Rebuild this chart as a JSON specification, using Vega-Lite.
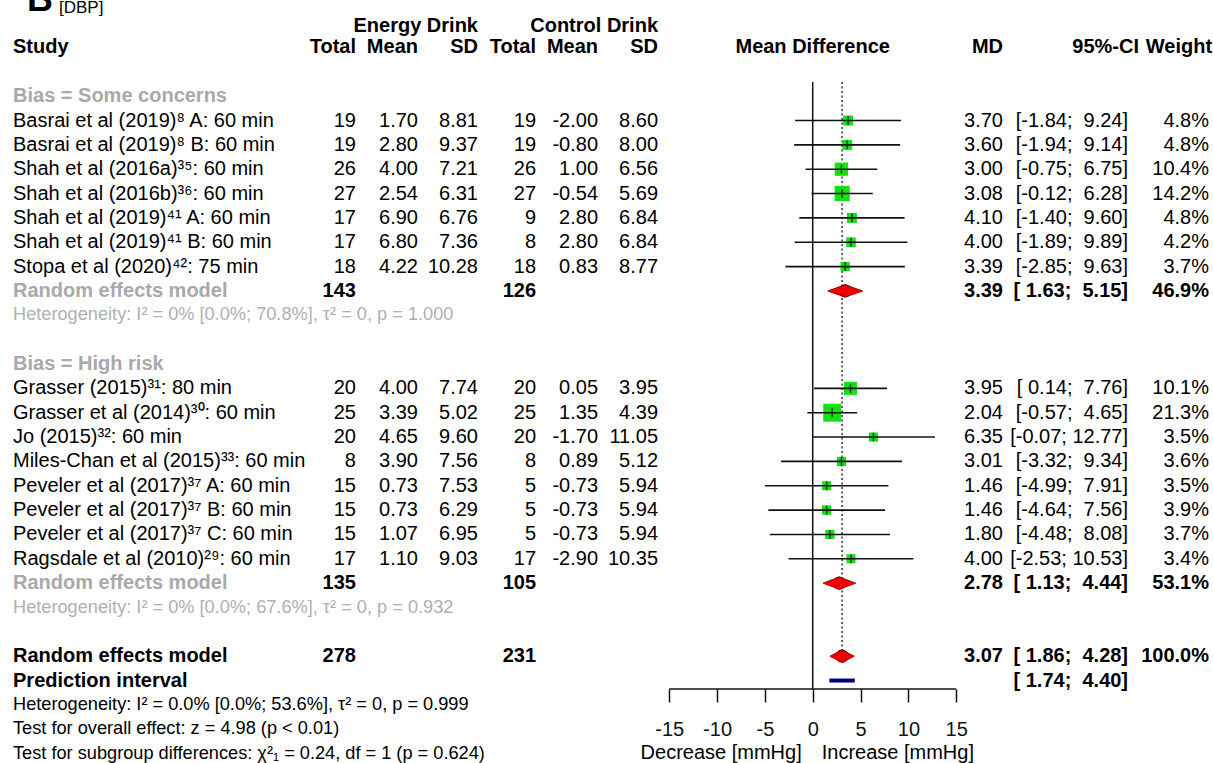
{
  "$schema": "https://vega.github.io/schema/vega-lite/v6.json",
  "width": 1213,
  "height": 689,
  "autosize": {"type": "none"},
  "padding": {"left": 0, "top": 0, "right": 0, "bottom": 74},
  "background": "white",
  "config": {
    "view": {"stroke": null},
    "text": {"font": "Liberation Sans"},
    "locale": {"number": {"decimal": ".", "thousands": ",", "grouping": [3], "currency": ["$", ""], "minus": "-"}}
  },
  "resolve": {"scale": {"size": "independent", "color": "independent"}},
  "datasets": {
    "studies": [
      {"study": "Basrai et al (2019)⁸ A: 60 min", "bias": "Some concerns", "k": 5, "n_e": 19, "m_e": 1.70, "sd_e": 8.81, "n_c": 19, "m_c": -2.00, "sd_c": 8.60, "md": 3.70, "lo": -1.84, "hi": 9.24, "ci": "[-1.84;\u00a0\u00a09.24]", "w": 0.048},
      {"study": "Basrai et al (2019)⁸ B: 60 min", "bias": "Some concerns", "k": 6, "n_e": 19, "m_e": 2.80, "sd_e": 9.37, "n_c": 19, "m_c": -0.80, "sd_c": 8.00, "md": 3.60, "lo": -1.94, "hi": 9.14, "ci": "[-1.94;\u00a0\u00a09.14]", "w": 0.048},
      {"study": "Shah et al (2016a)³⁵: 60 min", "bias": "Some concerns", "k": 7, "n_e": 26, "m_e": 4.00, "sd_e": 7.21, "n_c": 26, "m_c": 1.00, "sd_c": 6.56, "md": 3.00, "lo": -0.75, "hi": 6.75, "ci": "[-0.75;\u00a0\u00a06.75]", "w": 0.104},
      {"study": "Shah et al (2016b)³⁶: 60 min", "bias": "Some concerns", "k": 8, "n_e": 27, "m_e": 2.54, "sd_e": 6.31, "n_c": 27, "m_c": -0.54, "sd_c": 5.69, "md": 3.08, "lo": -0.12, "hi": 6.28, "ci": "[-0.12;\u00a0\u00a06.28]", "w": 0.142},
      {"study": "Shah et al (2019)⁴¹ A: 60 min", "bias": "Some concerns", "k": 9, "n_e": 17, "m_e": 6.90, "sd_e": 6.76, "n_c": 9, "m_c": 2.80, "sd_c": 6.84, "md": 4.10, "lo": -1.40, "hi": 9.60, "ci": "[-1.40;\u00a0\u00a09.60]", "w": 0.048},
      {"study": "Shah et al (2019)⁴¹ B: 60 min", "bias": "Some concerns", "k": 10, "n_e": 17, "m_e": 6.80, "sd_e": 7.36, "n_c": 8, "m_c": 2.80, "sd_c": 6.84, "md": 4.00, "lo": -1.89, "hi": 9.89, "ci": "[-1.89;\u00a0\u00a09.89]", "w": 0.042},
      {"study": "Stopa et al (2020)⁴²: 75 min", "bias": "Some concerns", "k": 11, "n_e": 18, "m_e": 4.22, "sd_e": 10.28, "n_c": 18, "m_c": 0.83, "sd_c": 8.77, "md": 3.39, "lo": -2.85, "hi": 9.63, "ci": "[-2.85;\u00a0\u00a09.63]", "w": 0.037},
      {"study": "Grasser (2015)³¹: 80 min", "bias": "High risk", "k": 16, "n_e": 20, "m_e": 4.00, "sd_e": 7.74, "n_c": 20, "m_c": 0.05, "sd_c": 3.95, "md": 3.95, "lo": 0.14, "hi": 7.76, "ci": "[\u00a00.14;\u00a0\u00a07.76]", "w": 0.101},
      {"study": "Grasser et al (2014)³⁰: 60 min", "bias": "High risk", "k": 17, "n_e": 25, "m_e": 3.39, "sd_e": 5.02, "n_c": 25, "m_c": 1.35, "sd_c": 4.39, "md": 2.04, "lo": -0.57, "hi": 4.65, "ci": "[-0.57;\u00a0\u00a04.65]", "w": 0.213},
      {"study": "Jo (2015)³²: 60 min", "bias": "High risk", "k": 18, "n_e": 20, "m_e": 4.65, "sd_e": 9.60, "n_c": 20, "m_c": -1.70, "sd_c": 11.05, "md": 6.35, "lo": -0.07, "hi": 12.77, "ci": "[-0.07;\u00a012.77]", "w": 0.035},
      {"study": "Miles-Chan et al (2015)³³: 60 min", "bias": "High risk", "k": 19, "n_e": 8, "m_e": 3.90, "sd_e": 7.56, "n_c": 8, "m_c": 0.89, "sd_c": 5.12, "md": 3.01, "lo": -3.32, "hi": 9.34, "ci": "[-3.32;\u00a0\u00a09.34]", "w": 0.036},
      {"study": "Peveler et al (2017)³⁷ A: 60 min", "bias": "High risk", "k": 20, "n_e": 15, "m_e": 0.73, "sd_e": 7.53, "n_c": 5, "m_c": -0.73, "sd_c": 5.94, "md": 1.46, "lo": -4.99, "hi": 7.91, "ci": "[-4.99;\u00a0\u00a07.91]", "w": 0.035},
      {"study": "Peveler et al (2017)³⁷ B: 60 min", "bias": "High risk", "k": 21, "n_e": 15, "m_e": 0.73, "sd_e": 6.29, "n_c": 5, "m_c": -0.73, "sd_c": 5.94, "md": 1.46, "lo": -4.64, "hi": 7.56, "ci": "[-4.64;\u00a0\u00a07.56]", "w": 0.039},
      {"study": "Peveler et al (2017)³⁷ C: 60 min", "bias": "High risk", "k": 22, "n_e": 15, "m_e": 1.07, "sd_e": 6.95, "n_c": 5, "m_c": -0.73, "sd_c": 5.94, "md": 1.80, "lo": -4.48, "hi": 8.08, "ci": "[-4.48;\u00a0\u00a08.08]", "w": 0.037},
      {"study": "Ragsdale et al (2010)²⁹: 60 min", "bias": "High risk", "k": 23, "n_e": 17, "m_e": 1.10, "sd_e": 9.03, "n_c": 17, "m_c": -2.90, "sd_c": 10.35, "md": 4.00, "lo": -2.53, "hi": 10.53, "ci": "[-2.53;\u00a010.53]", "w": 0.034}
    ],
    "pooled": [
      {"label": "Random effects model", "level": "subgroup", "k": 12, "n_e": 143, "n_c": 126, "md": 3.39, "lo": 1.63, "hi": 5.15, "ci": "[\u00a01.63;\u00a0\u00a05.15]", "w": 0.469},
      {"label": "Random effects model", "level": "subgroup", "k": 24, "n_e": 135, "n_c": 105, "md": 2.78, "lo": 1.13, "hi": 4.44, "ci": "[\u00a01.13;\u00a0\u00a04.44]", "w": 0.531},
      {"label": "Random effects model", "level": "overall", "k": 27, "n_e": 278, "n_c": 231, "md": 3.07, "lo": 1.86, "hi": 4.28, "ci": "[\u00a01.86;\u00a0\u00a04.28]", "w": 1.0},
      {"label": "Prediction interval", "level": "prediction", "k": 28, "lo": 1.74, "hi": 4.40, "ci": "[\u00a01.74;\u00a0\u00a04.40]"}
    ],
    "guides": [
      {"guide": "axis", "from": -15, "to": 15, "k_top": 28.347, "k_bottom": 28.347},
      {"guide": "no effect", "from": 0, "to": 0, "k_top": 3.42, "k_bottom": 28.347},
      {"guide": "overall effect", "from": 3.07, "to": 3.07, "k_top": 3.42, "k_bottom": 27}
    ],
    "notes": [
      {"text": "Bias = Some concerns", "k": 4, "kind": "subgroup"},
      {"text": "Heterogeneity: I² = 0% [0.0%; 70.8%], τ² = 0, p = 1.000", "k": 13, "kind": "subgroup-stat"},
      {"text": "Bias = High risk", "k": 15, "kind": "subgroup"},
      {"text": "Heterogeneity: I² = 0% [0.0%; 67.6%], τ² = 0, p = 0.932", "k": 25, "kind": "subgroup-stat"},
      {"text": "Heterogeneity: I² = 0.0% [0.0%; 53.6%], τ² = 0, p = 0.999", "k": 29, "kind": "overall-stat"},
      {"text": "Test for overall effect: z = 4.98 (p < 0.01)", "k": 30, "kind": "overall-stat"},
      {"text": "Test for subgroup differences: χ²₁ = 0.24, df = 1 (p = 0.624)", "k": 31, "kind": "overall-stat"}
    ]
  },
  "layer": [
    {
      "data": {"name": "guides"},
      "transform": [{"filter": "datum.guide != 'overall effect'"}],
      "mark": {"type": "rule", "color": "#111", "strokeWidth": 1.5},
      "encoding": {
        "x": {"field": "from", "type": "quantitative",
          "scale": {"domain": [-84.95, 41.84], "nice": false, "zero": false},
          "axis": {"values": [-15, -10, -5, 0, 5, 10, 15], "domain": false, "grid": false, "ticks": true, "tickSize": 13, "tickWidth": 1.5, "tickColor": "#111", "labels": true, "labelFontSize": 20, "labelFont": "Liberation Sans", "labelColor": "#111", "labelPadding": 17, "labelFlush": false, "labelOverlap": false, "title": null, "labelExpr": "'' + datum.value", "orient": "bottom"}},
        "x2": {"field": "to"},
        "y": {"field": "k_top", "type": "quantitative",
          "scale": {"domain": [0.0513, 28.347], "reverse": true, "nice": false, "zero": false},
          "axis": null},
        "y2": {"field": "k_bottom"}
      }
    },
    {
      "data": {"name": "guides"},
      "transform": [{"filter": "datum.guide == 'overall effect'"}],
      "mark": {"type": "rule", "color": "#333", "strokeWidth": 1.5, "strokeDash": [2, 2.5]},
      "encoding": {
        "x": {"field": "from", "type": "quantitative"},
        "y": {"field": "k_top", "type": "quantitative", "axis": null},
        "y2": {"field": "k_bottom"}
      }
    },
    {
      "data": {"name": "studies"},
      "mark": {"type": "point", "shape": "square", "filled": true, "color": "#14e014", "opacity": 1, "strokeWidth": 0},
      "encoding": {
        "x": {"field": "md", "type": "quantitative"},
        "y": {"field": "k", "type": "quantitative", "axis": null},
        "size": {"field": "w", "type": "quantitative", "scale": {"domain": [0, 0.213], "range": [35, 324]}, "legend": null}
      }
    },
    {
      "data": {"name": "studies"},
      "mark": {"type": "rule", "color": "#111", "strokeWidth": 1.6},
      "encoding": {
        "x": {"field": "lo", "type": "quantitative"},
        "x2": {"field": "hi"},
        "y": {"field": "k", "type": "quantitative", "axis": null}
      }
    },
    {
      "data": {"name": "studies"},
      "mark": {"type": "tick", "orient": "vertical", "color": "#111", "size": 9, "thickness": 1.5},
      "encoding": {
        "x": {"field": "md", "type": "quantitative"},
        "y": {"field": "k", "type": "quantitative", "axis": null}
      }
    },
    {
      "data": {"name": "pooled"},
      "transform": [{"filter": "datum.level != 'prediction'"}, {"fold": ["lo", "md"], "as": ["part", "val"]}],
      "mark": {"type": "trail", "color": "#7a0000"},
      "encoding": {
        "x": {"field": "val", "type": "quantitative"},
        "y": {"field": "k", "type": "quantitative", "axis": null},
        "detail": {"field": "k", "type": "nominal"},
        "order": {"field": "val", "type": "quantitative"},
        "size": {"field": "part", "type": "ordinal", "scale": {"type": "point", "domain": ["lo", "md"], "range": [1.4, 13.2], "padding": 0}, "legend": null}
      }
    },
    {
      "data": {"name": "pooled"},
      "transform": [{"filter": "datum.level != 'prediction'"}, {"fold": ["hi", "md"], "as": ["part", "val"]}],
      "mark": {"type": "trail", "color": "#7a0000"},
      "encoding": {
        "x": {"field": "val", "type": "quantitative"},
        "y": {"field": "k", "type": "quantitative", "axis": null},
        "detail": {"field": "k", "type": "nominal"},
        "order": {"field": "val", "type": "quantitative"},
        "size": {"field": "part", "type": "ordinal", "scale": {"type": "point", "domain": ["hi", "md"], "range": [1.4, 13.2], "padding": 0}, "legend": null}
      }
    },
    {
      "data": {"name": "pooled"},
      "transform": [{"filter": "datum.level != 'prediction'"}, {"fold": ["lo", "md"], "as": ["part", "val"]}],
      "mark": {"type": "trail", "color": "#ee0000"},
      "encoding": {
        "x": {"field": "val", "type": "quantitative"},
        "y": {"field": "k", "type": "quantitative", "axis": null},
        "detail": {"field": "k", "type": "nominal"},
        "order": {"field": "val", "type": "quantitative"},
        "size": {"field": "part", "type": "ordinal", "scale": {"type": "point", "domain": ["lo", "md"], "range": [0, 11], "padding": 0}, "legend": null}
      }
    },
    {
      "data": {"name": "pooled"},
      "transform": [{"filter": "datum.level != 'prediction'"}, {"fold": ["hi", "md"], "as": ["part", "val"]}],
      "mark": {"type": "trail", "color": "#ee0000"},
      "encoding": {
        "x": {"field": "val", "type": "quantitative"},
        "y": {"field": "k", "type": "quantitative", "axis": null},
        "detail": {"field": "k", "type": "nominal"},
        "order": {"field": "val", "type": "quantitative"},
        "size": {"field": "part", "type": "ordinal", "scale": {"type": "point", "domain": ["hi", "md"], "range": [0, 11], "padding": 0}, "legend": null}
      }
    },
    {
      "data": {"name": "pooled"},
      "transform": [{"filter": "datum.level == 'prediction'"}],
      "mark": {"type": "rule", "color": "#00007f", "strokeWidth": 4},
      "encoding": {
        "x": {"field": "lo", "type": "quantitative"},
        "x2": {"field": "hi"},
        "y": {"field": "k", "type": "quantitative", "axis": null}
      }
    },
    {
      "data": {"name": "studies"},
      "mark": {"type": "text", "align": "left", "baseline": "middle", "fontSize": 20, "color": "#000"},
      "encoding": {"x": {"datum": -83.59, "type": "quantitative"}, "y": {"field": "k", "type": "quantitative", "axis": null}, "text": {"field": "study", "type": "nominal"}}
    },
    {
      "data": {"name": "studies"},
      "mark": {"type": "text", "align": "right", "baseline": "middle", "fontSize": 20, "color": "#000"},
      "encoding": {"x": {"datum": -47.74, "type": "quantitative"}, "y": {"field": "k", "type": "quantitative", "axis": null}, "text": {"field": "n_e", "type": "quantitative", "format": "d"}}
    },
    {
      "data": {"name": "studies"},
      "mark": {"type": "text", "align": "right", "baseline": "middle", "fontSize": 20, "color": "#000"},
      "encoding": {"x": {"datum": -41.26, "type": "quantitative"}, "y": {"field": "k", "type": "quantitative", "axis": null}, "text": {"field": "m_e", "type": "quantitative", "format": ".2f"}}
    },
    {
      "data": {"name": "studies"},
      "mark": {"type": "text", "align": "right", "baseline": "middle", "fontSize": 20, "color": "#000"},
      "encoding": {"x": {"datum": -34.99, "type": "quantitative"}, "y": {"field": "k", "type": "quantitative", "axis": null}, "text": {"field": "sd_e", "type": "quantitative", "format": ".2f"}}
    },
    {
      "data": {"name": "studies"},
      "mark": {"type": "text", "align": "right", "baseline": "middle", "fontSize": 20, "color": "#000"},
      "encoding": {"x": {"datum": -28.92, "type": "quantitative"}, "y": {"field": "k", "type": "quantitative", "axis": null}, "text": {"field": "n_c", "type": "quantitative", "format": "d"}}
    },
    {
      "data": {"name": "studies"},
      "mark": {"type": "text", "align": "right", "baseline": "middle", "fontSize": 20, "color": "#000"},
      "encoding": {"x": {"datum": -22.44, "type": "quantitative"}, "y": {"field": "k", "type": "quantitative", "axis": null}, "text": {"field": "m_c", "type": "quantitative", "format": ".2f"}}
    },
    {
      "data": {"name": "studies"},
      "mark": {"type": "text", "align": "right", "baseline": "middle", "fontSize": 20, "color": "#000"},
      "encoding": {"x": {"datum": -16.17, "type": "quantitative"}, "y": {"field": "k", "type": "quantitative", "axis": null}, "text": {"field": "sd_c", "type": "quantitative", "format": ".2f"}}
    },
    {
      "data": {"name": "studies"},
      "mark": {"type": "text", "align": "right", "baseline": "middle", "fontSize": 20, "color": "#000"},
      "encoding": {"x": {"datum": 19.89, "type": "quantitative"}, "y": {"field": "k", "type": "quantitative", "axis": null}, "text": {"field": "md", "type": "quantitative", "format": ".2f"}}
    },
    {
      "data": {"name": "studies"},
      "mark": {"type": "text", "align": "right", "baseline": "middle", "fontSize": 20, "color": "#000"},
      "encoding": {"x": {"datum": 32.96, "type": "quantitative"}, "y": {"field": "k", "type": "quantitative", "axis": null}, "text": {"field": "ci", "type": "nominal"}}
    },
    {
      "data": {"name": "studies"},
      "mark": {"type": "text", "align": "right", "baseline": "middle", "fontSize": 20, "color": "#000"},
      "encoding": {"x": {"datum": 41.42, "type": "quantitative"}, "y": {"field": "k", "type": "quantitative", "axis": null}, "text": {"field": "w", "type": "quantitative", "format": ".1%"}}
    },
    {
      "data": {"name": "pooled"},
      "mark": {"type": "text", "align": "left", "baseline": "middle", "fontSize": 20, "fontWeight": "bold"},
      "encoding": {"x": {"datum": -83.59, "type": "quantitative"}, "y": {"field": "k", "type": "quantitative", "axis": null}, "text": {"field": "label", "type": "nominal"},
        "color": {"field": "level", "type": "nominal", "scale": {"domain": ["subgroup", "overall", "prediction"], "range": ["#a9a9a9", "#000000", "#000000"]}, "legend": null}}
    },
    {
      "data": {"name": "pooled"},
      "transform": [{"filter": "datum.level != 'prediction'"}],
      "mark": {"type": "text", "align": "right", "baseline": "middle", "fontSize": 20, "fontWeight": "bold", "color": "#000"},
      "encoding": {"x": {"datum": -47.74, "type": "quantitative"}, "y": {"field": "k", "type": "quantitative", "axis": null}, "text": {"field": "n_e", "type": "quantitative", "format": "d"}}
    },
    {
      "data": {"name": "pooled"},
      "transform": [{"filter": "datum.level != 'prediction'"}],
      "mark": {"type": "text", "align": "right", "baseline": "middle", "fontSize": 20, "fontWeight": "bold", "color": "#000"},
      "encoding": {"x": {"datum": -28.92, "type": "quantitative"}, "y": {"field": "k", "type": "quantitative", "axis": null}, "text": {"field": "n_c", "type": "quantitative", "format": "d"}}
    },
    {
      "data": {"name": "pooled"},
      "transform": [{"filter": "datum.level != 'prediction'"}],
      "mark": {"type": "text", "align": "right", "baseline": "middle", "fontSize": 20, "fontWeight": "bold", "color": "#000"},
      "encoding": {"x": {"datum": 19.89, "type": "quantitative"}, "y": {"field": "k", "type": "quantitative", "axis": null}, "text": {"field": "md", "type": "quantitative", "format": ".2f"}}
    },
    {
      "data": {"name": "pooled"},
      "mark": {"type": "text", "align": "right", "baseline": "middle", "fontSize": 20, "fontWeight": "bold", "color": "#000"},
      "encoding": {"x": {"datum": 32.96, "type": "quantitative"}, "y": {"field": "k", "type": "quantitative", "axis": null}, "text": {"field": "ci", "type": "nominal"}}
    },
    {
      "data": {"name": "pooled"},
      "transform": [{"filter": "datum.level != 'prediction'"}],
      "mark": {"type": "text", "align": "right", "baseline": "middle", "fontSize": 20, "fontWeight": "bold", "color": "#000"},
      "encoding": {"x": {"datum": 41.42, "type": "quantitative"}, "y": {"field": "k", "type": "quantitative", "axis": null}, "text": {"field": "w", "type": "quantitative", "format": ".1%"}}
    },
    {
      "data": {"name": "notes"},
      "transform": [{"filter": "datum.kind == 'subgroup'"}],
      "mark": {"type": "text", "align": "left", "baseline": "middle", "fontSize": 20, "fontWeight": "bold", "color": "#a9a9a9"},
      "encoding": {"x": {"datum": -83.59, "type": "quantitative"}, "y": {"field": "k", "type": "quantitative", "axis": null}, "text": {"field": "text", "type": "nominal"}}
    },
    {
      "data": {"name": "notes"},
      "transform": [{"filter": "datum.kind != 'subgroup'"}],
      "mark": {"type": "text", "align": "left", "baseline": "middle", "fontSize": 18.2},
      "encoding": {"x": {"datum": -83.59, "type": "quantitative"}, "y": {"field": "k", "type": "quantitative", "axis": null}, "text": {"field": "text", "type": "nominal"},
        "color": {"field": "kind", "type": "nominal", "scale": {"domain": ["subgroup-stat", "overall-stat"], "range": ["#b0b0b0", "#000000"]}, "legend": null}}
    },
    {
      "data": {"values": [{}]},
      "mark": {"type": "text", "align": "right", "baseline": "middle", "fontSize": 20, "fontWeight": "bold", "color": "#000"},
      "encoding": {"x": {"datum": -34.99, "type": "quantitative"}, "y": {"datum": 1.1, "type": "quantitative", "axis": null}, "text": {"value": "Energy Drink"}}
    },
    {
      "data": {"values": [{}]},
      "mark": {"type": "text", "align": "right", "baseline": "middle", "fontSize": 20, "fontWeight": "bold", "color": "#000"},
      "encoding": {"x": {"datum": -16.17, "type": "quantitative"}, "y": {"datum": 1.1, "type": "quantitative", "axis": null}, "text": {"value": "Control Drink"}}
    },
    {
      "data": {"values": [{}]},
      "mark": {"type": "text", "align": "left", "baseline": "middle", "fontSize": 20, "fontWeight": "bold", "color": "#000"},
      "encoding": {"x": {"datum": -83.59, "type": "quantitative"}, "y": {"datum": 2, "type": "quantitative", "axis": null}, "text": {"value": "Study"}}
    },
    {
      "data": {"values": [{}]},
      "mark": {"type": "text", "align": "right", "baseline": "middle", "fontSize": 20, "fontWeight": "bold", "color": "#000"},
      "encoding": {"x": {"datum": -47.74, "type": "quantitative"}, "y": {"datum": 2, "type": "quantitative", "axis": null}, "text": {"value": "Total"}}
    },
    {
      "data": {"values": [{}]},
      "mark": {"type": "text", "align": "right", "baseline": "middle", "fontSize": 20, "fontWeight": "bold", "color": "#000"},
      "encoding": {"x": {"datum": -41.26, "type": "quantitative"}, "y": {"datum": 2, "type": "quantitative", "axis": null}, "text": {"value": "Mean"}}
    },
    {
      "data": {"values": [{}]},
      "mark": {"type": "text", "align": "right", "baseline": "middle", "fontSize": 20, "fontWeight": "bold", "color": "#000"},
      "encoding": {"x": {"datum": -34.99, "type": "quantitative"}, "y": {"datum": 2, "type": "quantitative", "axis": null}, "text": {"value": "SD"}}
    },
    {
      "data": {"values": [{}]},
      "mark": {"type": "text", "align": "right", "baseline": "middle", "fontSize": 20, "fontWeight": "bold", "color": "#000"},
      "encoding": {"x": {"datum": -28.92, "type": "quantitative"}, "y": {"datum": 2, "type": "quantitative", "axis": null}, "text": {"value": "Total"}}
    },
    {
      "data": {"values": [{}]},
      "mark": {"type": "text", "align": "right", "baseline": "middle", "fontSize": 20, "fontWeight": "bold", "color": "#000"},
      "encoding": {"x": {"datum": -22.44, "type": "quantitative"}, "y": {"datum": 2, "type": "quantitative", "axis": null}, "text": {"value": "Mean"}}
    },
    {
      "data": {"values": [{}]},
      "mark": {"type": "text", "align": "right", "baseline": "middle", "fontSize": 20, "fontWeight": "bold", "color": "#000"},
      "encoding": {"x": {"datum": -16.17, "type": "quantitative"}, "y": {"datum": 2, "type": "quantitative", "axis": null}, "text": {"value": "SD"}}
    },
    {
      "data": {"values": [{}]},
      "mark": {"type": "text", "align": "center", "baseline": "middle", "fontSize": 20, "fontWeight": "bold", "color": "#000"},
      "encoding": {"x": {"datum": 0, "type": "quantitative"}, "y": {"datum": 2, "type": "quantitative", "axis": null}, "text": {"value": "Mean Difference"}}
    },
    {
      "data": {"values": [{}]},
      "mark": {"type": "text", "align": "right", "baseline": "middle", "fontSize": 20, "fontWeight": "bold", "color": "#000"},
      "encoding": {"x": {"datum": 19.89, "type": "quantitative"}, "y": {"datum": 2, "type": "quantitative", "axis": null}, "text": {"value": "MD"}}
    },
    {
      "data": {"values": [{}]},
      "mark": {"type": "text", "align": "right", "baseline": "middle", "fontSize": 20, "fontWeight": "bold", "color": "#000"},
      "encoding": {"x": {"datum": 34.11, "type": "quantitative"}, "y": {"datum": 2, "type": "quantitative", "axis": null}, "text": {"value": "95%-CI"}}
    },
    {
      "data": {"values": [{}]},
      "mark": {"type": "text", "align": "right", "baseline": "middle", "fontSize": 20, "fontWeight": "bold", "color": "#000"},
      "encoding": {"x": {"datum": 41.74, "type": "quantitative"}, "y": {"datum": 2, "type": "quantitative", "axis": null}, "text": {"value": "Weight"}}
    },
    {
      "data": {"values": [{}]},
      "mark": {"type": "text", "align": "right", "baseline": "middle", "fontSize": 20, "color": "#000", "dx": -11},
      "encoding": {"x": {"datum": 0, "type": "quantitative"}, "y": {"datum": 30.97, "type": "quantitative", "axis": null}, "text": {"value": "Decrease [mmHg]"}}
    },
    {
      "data": {"values": [{}]},
      "mark": {"type": "text", "align": "left", "baseline": "middle", "fontSize": 20, "color": "#000", "dx": 9},
      "encoding": {"x": {"datum": 0, "type": "quantitative"}, "y": {"datum": 30.97, "type": "quantitative", "axis": null}, "text": {"value": "Increase [mmHg]"}}
    },
    {
      "data": {"values": [{}]},
      "mark": {"type": "text", "align": "left", "baseline": "alphabetic", "fontSize": 36, "fontWeight": "bold", "color": "#000"},
      "encoding": {"x": {"datum": -82.13, "type": "quantitative"}, "y": {"datum": 0.503, "type": "quantitative", "axis": null}, "text": {"value": "B"}}
    },
    {
      "data": {"values": [{}]},
      "mark": {"type": "text", "align": "left", "baseline": "alphabetic", "fontSize": 17, "color": "#000"},
      "encoding": {"x": {"datum": -78.78, "type": "quantitative"}, "y": {"datum": 0.565, "type": "quantitative", "axis": null}, "text": {"value": "[DBP]"}}
    }
  ]
}
